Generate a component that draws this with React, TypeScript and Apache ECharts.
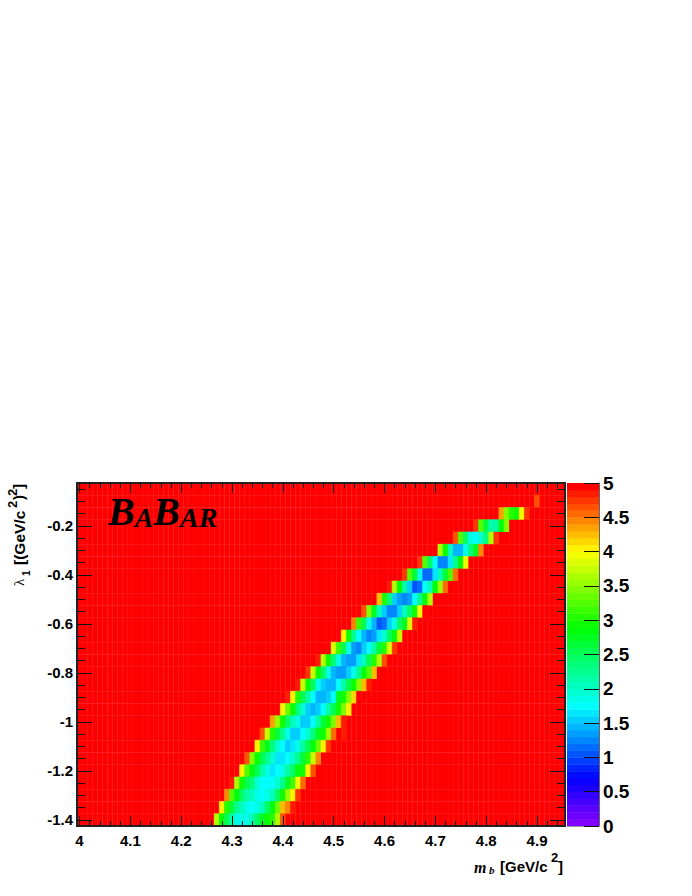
import React, { useEffect, useRef } from "react";
import * as echarts from "echarts";

// ---- data ----
const mbRange = [3.995, 4.955];
const lambdaRange = [-1.425, -0.025];
const binWidth = 0.01;
const binHeight = 0.05;
const binCount = 96;
const ceilingValue = 5;

const lambdaCenters = [
  -0.05, -0.1, -0.15, -0.2, -0.25, -0.3, -0.35, -0.4, -0.45, -0.5, -0.55, -0.6, -0.65, -0.7,
  -0.75, -0.8, -0.85, -0.9, -0.95, -1.0, -1.05, -1.1, -1.15, -1.2, -1.25, -1.3, -1.35, -1.4,
];
const rowStartBins = [
  0, 90, 83, 78, 74, 71, 67, 64, 61, 59, 56, 54, 52, 50,
  47, 45, 43, 41, 40, 38, 36, 35, 33, 32, 30, 29, 28, 27,
];
const rowValues = [
  [],
  [4.6],
  [4.3, 3.4, 3.0, 2.9, 3.9, 4.7],
  [4.7, 3.2, 2.6, 2.1, 2.1, 2.8, 3.4],
  [4.6, 3.2, 2.4, 1.8, 1.7, 1.9, 2.3, 3.6, 4.7],
  [3.6, 2.9, 2.0, 1.4, 1.4, 1.8, 2.3, 2.7, 4.4],
  [4.7, 3.2, 2.4, 1.7, 1.2, 1.2, 1.6, 2.2, 2.8, 3.9],
  [4.7, 3.2, 2.6, 1.8, 1.1, 1.1, 1.6, 2.0, 2.6, 3.2, 4.5],
  [4.8, 3.6, 2.8, 2.1, 1.5, 1.0, 1.1, 1.7, 2.0, 2.8, 3.5, 4.5],
  [4.2, 3.0, 2.3, 1.5, 1.3, 1.2, 1.3, 1.7, 2.2, 2.8, 3.6],
  [4.6, 3.4, 2.7, 2.0, 1.5, 1.2, 1.2, 1.5, 2.0, 2.4, 2.9, 3.9, 4.9],
  [4.4, 3.1, 2.5, 1.8, 1.4, 1.0, 1.1, 1.5, 1.8, 2.4, 2.7, 3.8, 4.8],
  [4.0, 2.9, 2.2, 1.7, 1.4, 1.2, 1.3, 1.6, 1.9, 2.4, 2.8, 3.7],
  [3.8, 3.1, 2.5, 1.8, 1.3, 1.2, 1.5, 1.7, 2.1, 2.6, 3.0, 3.8, 4.7],
  [4.8, 3.6, 2.9, 2.3, 1.8, 1.4, 1.3, 1.3, 1.6, 2.0, 2.5, 3.0, 3.6, 4.6],
  [4.7, 3.7, 2.9, 2.4, 1.8, 1.4, 1.3, 1.3, 1.5, 1.8, 2.2, 2.8, 3.2, 4.2],
  [4.8, 3.7, 2.9, 2.4, 1.8, 1.5, 1.4, 1.4, 1.7, 2.1, 2.5, 2.9, 3.4, 4.2, 4.8],
  [4.8, 4.0, 3.0, 2.5, 2.1, 1.7, 1.4, 1.4, 1.5, 1.7, 2.7, 2.9, 3.4, 4.1, 4.9],
  [4.0, 3.3, 2.9, 2.3, 1.9, 1.5, 1.4, 1.5, 1.7, 2.1, 2.5, 2.9, 3.4, 4.0],
  [4.3, 3.5, 2.9, 2.4, 2.0, 1.8, 1.5, 1.5, 1.7, 2.1, 2.6, 2.9, 3.4, 4.2, 4.8],
  [4.6, 3.7, 3.0, 2.6, 2.2, 1.8, 1.5, 1.5, 1.7, 1.9, 2.3, 2.7, 2.9, 3.5, 4.5, 5.0, 4.8],
  [4.0, 3.1, 2.7, 2.3, 1.9, 1.7, 1.5, 1.6, 1.8, 2.1, 2.5, 2.8, 3.3, 4.0, 4.7],
  [4.6, 3.4, 2.9, 2.5, 2.2, 1.9, 1.6, 1.6, 1.7, 1.9, 2.2, 2.6, 3.0, 3.7, 4.4],
  [4.0, 3.2, 2.8, 2.5, 2.1, 1.8, 1.6, 1.7, 1.8, 2.1, 2.4, 2.8, 2.9, 4.0, 4.6],
  [4.8, 3.6, 2.9, 2.5, 2.3, 1.9, 1.7, 1.7, 1.7, 1.9, 2.2, 2.7, 3.1, 3.9, 4.5],
  [4.4, 3.2, 2.8, 2.4, 2.1, 2.0, 1.8, 1.7, 1.8, 2.0, 2.4, 2.9, 3.5, 4.0, 4.7],
  [4.0, 3.0, 2.6, 2.2, 2.0, 1.8, 1.7, 1.8, 2.0, 2.4, 2.8, 3.3, 4.2, 4.4, 4.8],
  [3.6, 2.9, 2.5, 2.1, 1.8, 1.8, 1.8, 2.0, 2.4, 2.7, 2.9, 3.0, 3.6, 4.6],
];

const xMajorTicks = [4, 4.1, 4.2, 4.3, 4.4, 4.5, 4.6, 4.7, 4.8, 4.9];
const xMinorTicks = [
  4.02, 4.04, 4.06, 4.08, 4.12, 4.14, 4.16, 4.18, 4.22, 4.24, 4.26, 4.28, 4.32, 4.34, 4.36, 4.38,
  4.42, 4.44, 4.46, 4.48, 4.52, 4.54, 4.56, 4.58, 4.62, 4.64, 4.66, 4.68, 4.72, 4.74, 4.76, 4.78,
  4.82, 4.84, 4.86, 4.88, 4.92, 4.94,
];
const yMajorTicks = [-1.4, -1.2, -1, -0.8, -0.6, -0.4, -0.2];
const yMinorTicks = [
  -1.35, -1.3, -1.25, -1.15, -1.1, -1.05, -0.95, -0.9, -0.85, -0.75, -0.7, -0.65, -0.55, -0.5,
  -0.45, -0.35, -0.3, -0.25, -0.15, -0.1, -0.05,
];
const colorbarTicks = [0, 0.5, 1, 1.5, 2, 2.5, 3, 3.5, 4, 4.5, 5];
const paletteLevels = 50;

// ---- styles ----
const paletteStops: [number, number[]][] = [
  [0, [140, 0, 255]],
  [0.7, [0, 0, 255]],
  [1.75, [0, 255, 255]],
  [2.9, [0, 255, 0]],
  [4.0, [255, 255, 0]],
  [4.95, [255, 0, 0]],
];
function levelColor(v: number): string {
  const lv = Math.min(paletteLevels - 1, Math.floor(v * 10 + 1e-6));
  const t = Math.min(4.95, (lv + 0.5) / 10);
  for (let i = 1; i < paletteStops.length; i++) {
    if (t <= paletteStops[i][0]) {
      const [a, ca] = paletteStops[i - 1];
      const [b, cb] = paletteStops[i];
      const f = (t - a) / (b - a);
      const c = ca.map((q, k) => Math.round(q + (cb[k] - q) * f));
      return `rgb(${c[0]},${c[1]},${c[2]})`;
    }
  }
  return "rgb(255,0,0)";
}

const SANS = "'Liberation Sans', Arial, sans-serif";
const SERIF = "'Liberation Serif', 'Times New Roman', serif";
const FRAME = "#222";
const INK = "#000";

function cellData() {
  const out: number[][] = [];
  lambdaCenters.forEach((y, r) => {
    for (let i = 0; i < binCount; i++) {
      const k = i - rowStartBins[r];
      const v = k >= 0 && k < rowValues[r].length ? rowValues[r][k] : ceilingValue;
      out.push([4 + i * binWidth, y, v]);
    }
  });
  return out;
}

function colorbarData() {
  const out: number[][] = [];
  for (let l = 0; l < paletteLevels; l++) out.push([0, l / 10 + 0.05, l / 10 + 0.05]);
  return out;
}

const fmt = (v: number) => String(v);

function xAxisOf(gridIndex: number, position: string, ticks: number[], len: number, labels: boolean) {
  return {
    type: "value",
    gridIndex,
    position,
    min: mbRange[0],
    max: mbRange[1],
    z: 5,
    splitLine: { show: false },
    axisLine: { show: true, onZero: false, lineStyle: { color: FRAME, width: 2 } },
    axisTick: { show: true, inside: true, length: len, customValues: ticks, lineStyle: { color: "#111", width: 1 } },
    axisLabel: labels
      ? {
          show: true, customValues: xMajorTicks, formatter: fmt, margin: 7,
          color: INK, fontFamily: SANS, fontWeight: "bold", fontSize: 15,
        }
      : { show: false },
  };
}

function yAxisOf(gridIndex: number, position: string, ticks: number[], len: number, labels: boolean) {
  return {
    type: "value",
    gridIndex,
    position,
    min: lambdaRange[0],
    max: lambdaRange[1],
    z: 5,
    splitLine: { show: false },
    axisLine: { show: true, onZero: false, lineStyle: { color: FRAME, width: 2 } },
    axisTick: { show: true, inside: true, length: len, customValues: ticks, lineStyle: { color: "#111", width: 1 } },
    axisLabel: labels
      ? {
          show: true, customValues: yMajorTicks, formatter: fmt, margin: 4,
          color: INK, fontFamily: SANS, fontWeight: "bold", fontSize: 15,
        }
      : { show: false },
  };
}

export default function App() {
  const ref = useRef<HTMLDivElement>(null);
  useEffect(() => {
    const chart = echarts.init(ref.current!, null, { renderer: "svg" });
    const plotRect = { left: 77, top: 483, width: 488, height: 343 };
    chart.setOption({
      animation: false,
      backgroundColor: "#fff",
      grid: [
        { ...plotRect, show: true, backgroundColor: "#ff7070", borderWidth: 0 },
        { ...plotRect, show: false },
        { left: 567, top: 483, width: 32, height: 343, show: false },
      ],
      xAxis: [
        xAxisOf(0, "bottom", xMajorTicks, 10, true),
        xAxisOf(0, "top", xMajorTicks, 10, false),
        xAxisOf(1, "bottom", xMinorTicks, 5, false),
        xAxisOf(1, "top", xMinorTicks, 5, false),
        {
          type: "value", gridIndex: 2, position: "bottom", min: -0.5, max: 0.5, z: 5,
          splitLine: { show: false }, axisTick: { show: false }, axisLabel: { show: false },
          axisLine: { show: true, onZero: false, lineStyle: { color: "#999", width: 1 } },
        },
      ],
      yAxis: [
        yAxisOf(0, "left", yMajorTicks, 15, true),
        yAxisOf(0, "right", yMajorTicks, 15, false),
        yAxisOf(1, "left", yMinorTicks, 8, false),
        yAxisOf(1, "right", yMinorTicks, 8, false),
        {
          type: "value", gridIndex: 2, position: "right", min: 0, max: 5, interval: 0.5, z: 5,
          splitLine: { show: false },
          axisLine: { show: true, onZero: false, lineStyle: { color: "#666", width: 1 } },
          axisTick: { show: true, inside: true, length: 15, customValues: colorbarTicks, lineStyle: { color: "#111", width: 1 } },
          axisLabel: {
            show: true, margin: 4, formatter: fmt, customValues: colorbarTicks,
            color: INK, fontFamily: SANS, fontWeight: "bold", fontSize: 19,
          },
        },
      ],
      series: [
        {
          type: "custom",
          coordinateSystem: "cartesian2d",
          xAxisIndex: 0,
          yAxisIndex: 0,
          z: 1,
          silent: true,
          data: cellData(),
          encode: { x: 0, y: 1 },
          renderItem: (_p: any, api: any) => {
            const x = api.value(0), y = api.value(1), v = api.value(2);
            const a = api.coord([x - binWidth / 2, y + binHeight / 2]);
            const b = api.coord([x + binWidth / 2, y - binHeight / 2]);
            const color = levelColor(v);
            return {
              type: "rect",
              shape: { x: a[0], y: a[1], width: b[0] - a[0], height: b[1] - a[1] },
              style: v < ceilingValue ? { fill: color, stroke: color, lineWidth: 0.6 } : { fill: color },
            };
          },
        },
        {
          type: "custom",
          coordinateSystem: "cartesian2d",
          xAxisIndex: 4,
          yAxisIndex: 4,
          z: 1,
          silent: true,
          data: colorbarData(),
          encode: { x: 0, y: 1 },
          renderItem: (_p: any, api: any) => {
            const v = api.value(1);
            const a = api.coord([-0.5, v + 0.05]);
            const b = api.coord([0.5, v - 0.05]);
            return {
              type: "rect",
              shape: { x: a[0], y: a[1], width: b[0] - a[0], height: b[1] - a[1] + 0.4 },
              style: { fill: levelColor(api.value(2)) },
            };
          },
        },
      ],
      graphic: [
        {
          type: "text", x: 108, y: 531, z: 10,
          style: {
            text: "{b|B}{s|A}{b|B}{s|AR}",
            verticalAlign: "bottom",
            rich: {
              b: { fontFamily: SERIF, fontStyle: "italic", fontWeight: "bold", fontSize: 40, fill: INK, lineHeight: 40, verticalAlign: "bottom" },
              s: { fontFamily: SERIF, fontStyle: "italic", fontWeight: "bold", fontSize: 28, fill: INK, lineHeight: 40, verticalAlign: "bottom" },
            },
          },
        },
        { type: "text", x: 474, y: 859, style: { text: "m", font: `italic bold 16px ${SERIF}`, fill: INK } },
        { type: "text", x: 489, y: 864, style: { text: "b", font: `italic bold 11px ${SERIF}`, fill: INK } },
        { type: "text", x: 500, y: 859, style: { text: "[GeV/c", font: `bold 15px ${SANS}`, fill: INK } },
        { type: "text", x: 551, y: 851, style: { text: "2", font: `bold 13px ${SANS}`, fill: INK } },
        { type: "text", x: 558, y: 859, style: { text: "]", font: `bold 15px ${SANS}`, fill: INK } },
        {
          type: "group", x: 0, y: 0,
          children: [
            { type: "text", x: 11, y: 586, rotation: Math.PI / 2, style: { text: "λ", font: `15px ${SERIF}`, fill: INK } },
            { type: "text", x: 21, y: 576, rotation: Math.PI / 2, style: { text: "1", font: `bold 10px ${SANS}`, fill: INK } },
            { type: "text", x: 11, y: 565, rotation: Math.PI / 2, style: { text: "[(GeV/c", font: `bold 15.5px ${SANS}`, fill: INK } },
            { type: "text", x: 6, y: 508, rotation: Math.PI / 2, style: { text: "2", font: `bold 13px ${SANS}`, fill: INK } },
            { type: "text", x: 11, y: 500, rotation: Math.PI / 2, style: { text: ")", font: `bold 15px ${SANS}`, fill: INK } },
            { type: "text", x: 6, y: 496, rotation: Math.PI / 2, style: { text: "2", font: `bold 13px ${SANS}`, fill: INK } },
            { type: "text", x: 11, y: 489, rotation: Math.PI / 2, style: { text: "]", font: `bold 15px ${SANS}`, fill: INK } },
          ],
        },
      ],
    });
    return () => chart.dispose();
  }, []);
  return <div ref={ref} style={{ position: "absolute", left: 0, top: 0, width: 692, height: 896 }} />;
}
